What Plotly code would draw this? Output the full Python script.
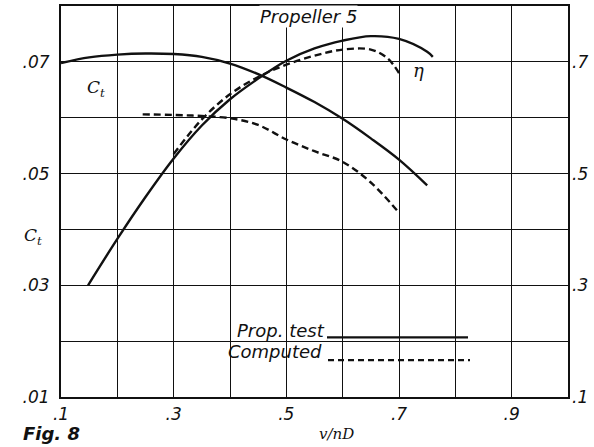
import plotly.graph_objects as go

# ---- data ----
ct_test_x = [0.10, 0.15, 0.20, 0.25, 0.30, 0.35, 0.40, 0.45, 0.50, 0.55, 0.60, 0.65, 0.70, 0.75]
ct_test_y = [0.0698, 0.0708, 0.0713, 0.0715, 0.0714, 0.0709, 0.0697, 0.0678, 0.0654, 0.0628, 0.0598, 0.0563, 0.0525, 0.0479]

ct_comp_x = [0.245, 0.30, 0.35, 0.40, 0.45, 0.50, 0.55, 0.60, 0.65, 0.70]
ct_comp_y = [0.0606, 0.0605, 0.0603, 0.0599, 0.0587, 0.0561, 0.0540, 0.0521, 0.0484, 0.0430]

eta_test_x = [0.148, 0.20, 0.25, 0.30, 0.35, 0.40, 0.45, 0.50, 0.55, 0.60, 0.65, 0.70, 0.75, 0.76]
eta_test_y = [0.300, 0.383, 0.458, 0.527, 0.586, 0.633, 0.670, 0.702, 0.724, 0.738, 0.746, 0.741, 0.718, 0.709]

eta_comp_x = [0.30, 0.35, 0.40, 0.45, 0.50, 0.55, 0.60, 0.65, 0.68, 0.70]
eta_comp_y = [0.535, 0.597, 0.642, 0.673, 0.695, 0.711, 0.722, 0.722, 0.706, 0.680]

x_ticks = [0.1, 0.2, 0.3, 0.4, 0.5, 0.6, 0.7, 0.8, 0.9, 1.0]
x_text = [".1", "", ".3", "", ".5", "", ".7", "", ".9", ""]
y_ticks = [0.01, 0.02, 0.03, 0.04, 0.05, 0.06, 0.07, 0.08]
y_text = [".01", "", ".03", "", ".05", "", ".07", ""]
eta_ticks = [0.1, 0.3, 0.5, 0.7]
eta_text = [".1", ".3", ".5", ".7"]

INK = "#111111"
SANS = "DejaVu Sans"
SERIF = "DejaVu Serif"
LW = 2.4
DASH = "7px,4px"
SMOOTH = 1.0

fig = go.Figure()
fig.add_trace(go.Scatter(x=ct_test_x, y=ct_test_y, mode="lines",
                         line=dict(color=INK, width=LW, shape="spline", smoothing=SMOOTH),
                         showlegend=False, yaxis="y"))
fig.add_trace(go.Scatter(x=ct_comp_x, y=ct_comp_y, mode="lines",
                         line=dict(color=INK, width=LW, dash=DASH, shape="spline", smoothing=SMOOTH),
                         showlegend=False, yaxis="y"))
fig.add_trace(go.Scatter(x=eta_test_x, y=eta_test_y, mode="lines",
                         line=dict(color=INK, width=LW, shape="spline", smoothing=SMOOTH),
                         showlegend=False, yaxis="y2"))
fig.add_trace(go.Scatter(x=eta_comp_x, y=eta_comp_y, mode="lines",
                         line=dict(color=INK, width=LW, dash=DASH, shape="spline", smoothing=SMOOTH),
                         showlegend=False, yaxis="y2"))

tickfont = dict(family=SANS, size=17, color=INK, style="italic")

fig.update_layout(
    width=594, height=447,
    margin=dict(l=61, r=26, t=4, b=50),
    paper_bgcolor="white", plot_bgcolor="white",
    xaxis=dict(range=[0.1, 1.0], tickvals=x_ticks, ticktext=x_text,
               showgrid=True, gridcolor=INK, gridwidth=1.4, zeroline=False,
               showline=True, linecolor=INK, linewidth=2, mirror=True,
               ticks="", tickfont=tickfont, ticklabelstandoff=1),
    yaxis=dict(range=[0.01, 0.08], tickvals=y_ticks, ticktext=y_text,
               showgrid=True, gridcolor=INK, gridwidth=1.4, zeroline=False,
               showline=True, linecolor=INK, linewidth=2, mirror=True,
               ticks="", tickfont=tickfont, ticklabelstandoff=6),
    yaxis2=dict(range=[0.1, 0.8], tickvals=eta_ticks, ticktext=eta_text,
                overlaying="y", side="right", showgrid=False, zeroline=False,
                showline=False, ticks="", tickfont=tickfont, ticklabelstandoff=3),
    font=dict(family=SANS, color=INK),
)


def px_x(p):
    return (p - 61) / 507


def px_y(p):
    return (397 - p) / 393


# white background behind the legend (interrupts the grid)
fig.add_shape(type="rect", xref="paper", yref="paper",
              x0=px_x(205), x1=px_x(476), y0=px_y(368), y1=px_y(325),
              fillcolor="white", line=dict(width=0), layer="between")

# legend samples
fig.add_shape(type="line", xref="paper", yref="paper",
              x0=px_x(327), x1=px_x(468), y0=px_y(337), y1=px_y(337),
              line=dict(color=INK, width=2.2))
fig.add_shape(type="line", xref="paper", yref="paper",
              x0=px_x(328), x1=px_x(470), y0=px_y(360), y1=px_y(360),
              line=dict(color=INK, width=2.2, dash="6px,4px"))

ann_font = dict(family=SANS, size=18, color=INK, style="italic")
fig.add_annotation(xref="paper", yref="paper", x=px_x(327), y=px_y(330),
                   text="Prop. test", showarrow=False, xanchor="right", yanchor="middle",
                   font=ann_font)
fig.add_annotation(xref="paper", yref="paper", x=px_x(324), y=px_y(351),
                   text="Computed", showarrow=False, xanchor="right", yanchor="middle",
                   font=ann_font)

# title inside plot
fig.add_annotation(xref="paper", yref="paper", x=px_x(308), y=px_y(15),
                   text="Propeller 5", showarrow=False, xanchor="center", yanchor="middle",
                   font=dict(family=SANS, size=18, color=INK, style="italic"),
                   bgcolor="white", borderpad=0)

# curve labels
fig.add_annotation(xref="paper", yref="paper", x=px_x(96), y=px_y(87),
                   text="C<sub>t</sub>", showarrow=False, xanchor="center", yanchor="middle",
                   font=dict(family=SERIF, size=17, color=INK, style="italic"))
fig.add_annotation(xref="paper", yref="paper", x=px_x(418), y=px_y(69),
                   text="η", showarrow=False, xanchor="center", yanchor="middle",
                   font=dict(family=SERIF, size=18, color=INK, style="italic"))

# y-axis title
fig.add_annotation(xref="paper", yref="paper", x=px_x(33), y=px_y(236),
                   text="C<sub>t</sub>", showarrow=False, xanchor="center", yanchor="middle",
                   font=dict(family=SERIF, size=17, color=INK, style="italic"))

# x-axis title
fig.add_annotation(xref="paper", yref="paper", x=px_x(336), y=px_y(434),
                   text="v/nD", showarrow=False, xanchor="center", yanchor="middle",
                   font=dict(family=SERIF, size=15, color=INK, style="italic"))

# figure label
fig.add_annotation(xref="paper", yref="paper", x=px_x(21), y=px_y(434),
                   text="<b>Fig. 8</b>", showarrow=False, xanchor="left", yanchor="middle",
                   font=dict(family=SANS, size=18, color=INK, style="italic"))

fig.write_html("out.html")
